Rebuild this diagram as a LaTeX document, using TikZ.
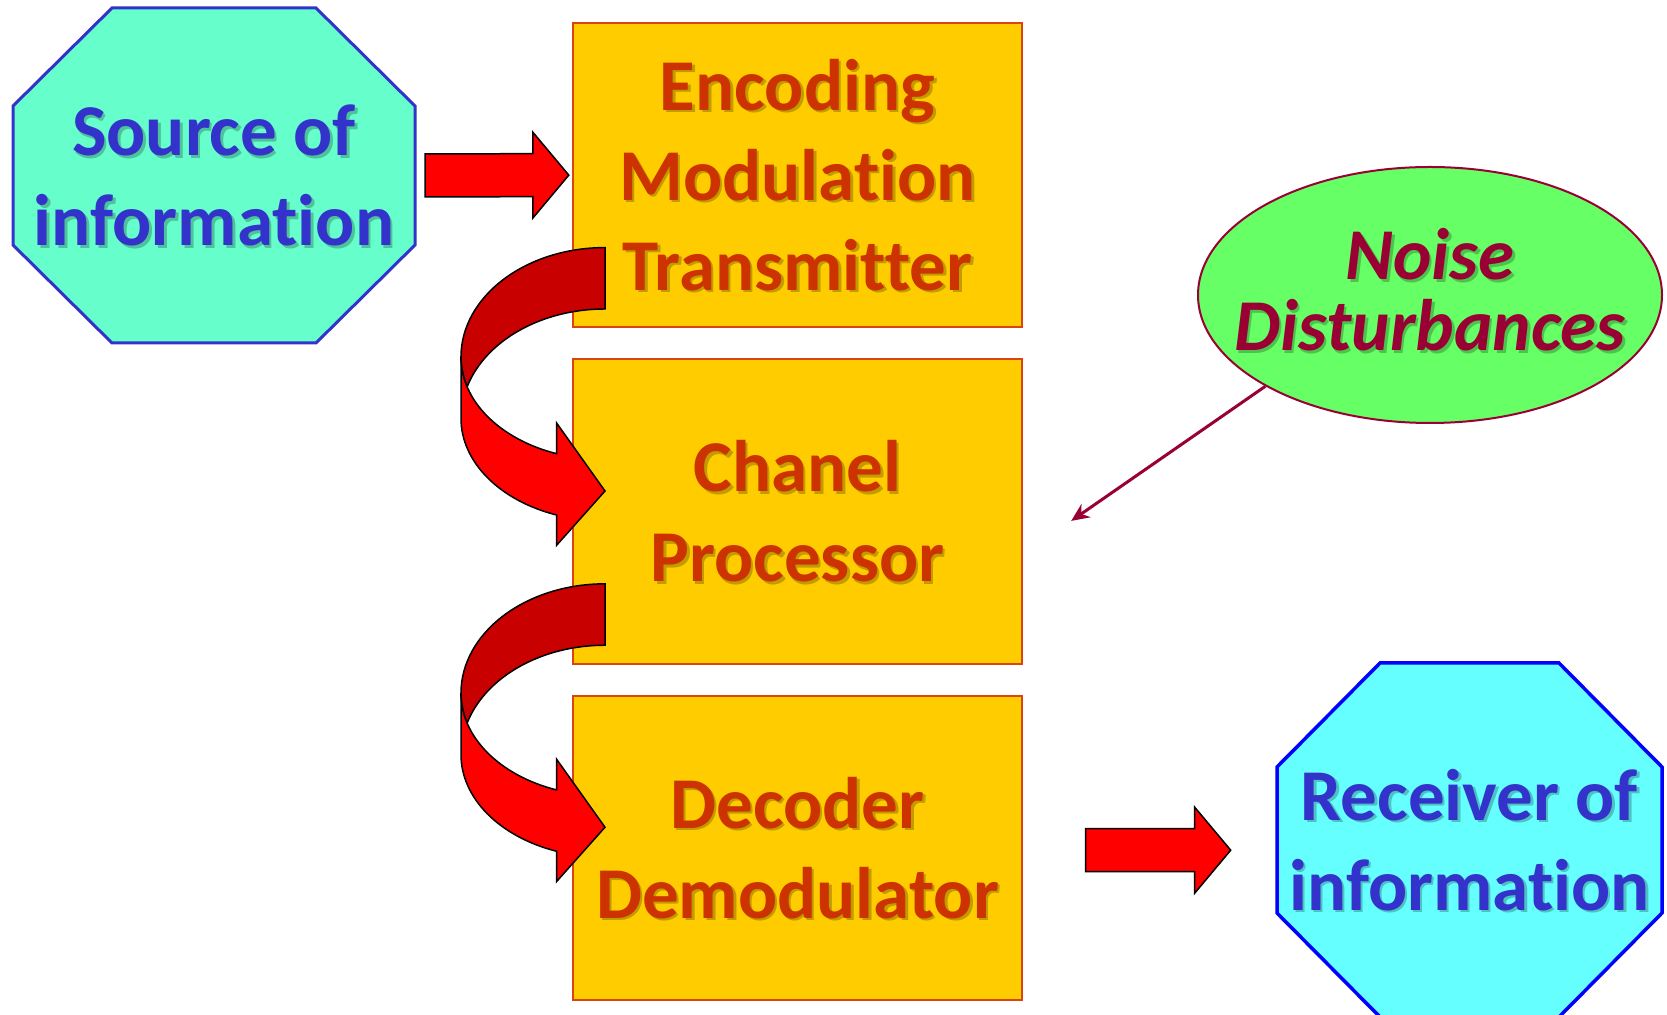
\documentclass[tikz,border=0pt]{standalone}
\usepackage{fontspec}
\setmainfont{Carlito}[Ligatures=NoCommon]
\usetikzlibrary{shapes.geometric,arrows.meta,calc}
\definecolor{srcfill}{HTML}{66FFCC}
\definecolor{srcline}{HTML}{3333CC}
\definecolor{srctext}{HTML}{3333CC}
\definecolor{rcvfill}{HTML}{66FFFF}
\definecolor{rcvline}{HTML}{0000FF}
\definecolor{boxfill}{HTML}{FFCC00}
\definecolor{boxline}{HTML}{D9440F}
\definecolor{boxtext}{HTML}{CC3300}
\definecolor{noisefill}{HTML}{66FF66}
\definecolor{noiseline}{HTML}{990033}
\definecolor{noisetext}{HTML}{990033}
\definecolor{darkband}{HTML}{C80000}
\definecolor{arrred}{HTML}{FF0000}
\tikzset{
  frame/.style={inner sep=0pt, outer sep=0pt, draw=none},
  procbox/.style={draw=boxline, line width=1pt, fill=boxfill, minimum width=224.2pt, minimum height=152.15pt, inner sep=0pt, outer sep=0pt},
  bigtxt/.style={font=\fontsize{36.5}{45}\selectfont\bfseries, align=center, inner sep=0pt},
  noisetxt/.style={font=\fontsize{36.5}{35.5}\selectfont\bfseries\itshape, align=center, inner sep=0pt, text=noisetext},
  blockarrow/.style={draw=black, line width=0.75pt, fill=arrred, line join=miter},
  backband/.style={draw=black, line width=0.75pt, fill=darkband},
  frontband/.style={draw=black, line width=0.75pt, fill=arrred},
  noisearrow/.style={draw=noiseline, line width=1.5pt, -{Stealth[length=9pt,width=8pt]}},
  srcocto/.style={draw=srcline, line width=1.5pt, fill=srcfill, line join=miter},
  rcvocto/.style={draw=rcvline, line width=1.75pt, fill=rcvfill, line join=miter},
}
% octagon around a frame node: #1 style, #2 node, #3 chamfer x, #4 chamfer y
\newcommand\octagonpath[4]{%
  \draw[#1] ($(#2.north west)+(#3,0)$) -- ($(#2.north east)+(-#3,0)$) -- ($(#2.north east)+(0,#4)$) -- ($(#2.south east)+(0,-#4)$) -- ($(#2.south east)+(-#3,0)$) -- ($(#2.south west)+(#3,0)$) -- ($(#2.south west)+(0,-#4)$) -- ($(#2.north west)+(0,#4)$) -- cycle;}
% text with a soft shadow: #1 style, #2 name, #3 position, #4 text
\newcommand\shtxt[4]{%
  \node[#1, text=black, text opacity=0.24] (#2sh) at ($#3+(2.5,2.5)$) {#4};
  \node[#1] (#2) at #3 {#4};}
% block arrow from tail coordinate #1 to tip coordinate #2
\newcommand\blockarr[2]{%
  \draw[blockarrow] ($#1+(0,-21.5)$) -- ($#2+(-36,-21.5)$) -- ($#2+(-36,-43)$) -- #2 -- ($#2+(-36,43)$) -- ($#2+(-36,21.5)$) -- ($#1+(0,21.5)$) -- cycle;}
% curved ribbon arrow attached to the south west corner of box #1
\newcommand\curvarr[1]{%
  \begin{scope}[shift={(#1.south west)}]
    \draw[backband] (31.7,-79.7) arc[start angle=270,end angle=180,x radius=144,y radius=109.4]
      arc[start angle=180,end angle=163.17,x radius=144,y radius=102.6]
      arc[start angle=196.83,end angle=270,x radius=144,y radius=109.4] -- cycle;
    \draw[frontband] (-112.3,29.7) -- (-112.3,91.1)
      arc[start angle=180,end angle=109.6,x radius=144,y radius=102.6]
      -- (-16.7,218) -- (31.7,163.7) -- (-16.7,95.7) -- (-16.7,126.4)
      arc[start angle=109.6,end angle=180,x radius=144,y radius=102.6] -- cycle;
  \end{scope}}
\begin{document}
\begin{tikzpicture}[x=0.5pt,y=-0.5pt]
\useasboundingbox (0,0) rectangle (1667,1015);
\fill[white] (0,0) rectangle (1667,1015);

% source
\node[frame, minimum width=201pt, minimum height=167.5pt] (src) at (214,175.5) {};
\octagonpath{srcocto}{src}{99}{98}
\shtxt{bigtxt,text=srctext}{srct}{(src)}{Source of\\information}

% process boxes
\node[procbox] (b1) at (797.5,175.15) {};
\node[procbox] (b2) at (797.5,511.4) {};
\node[procbox] (b3) at (797.5,847.7) {};
\shtxt{bigtxt,text=boxtext}{b1t}{(b1)}{Encoding\\Modulation\\Transmitter}
\shtxt{bigtxt,text=boxtext}{b2t}{(b2)}{Chanel\\Processor}
\shtxt{bigtxt,text=boxtext}{b3t}{(b3)}{Decoder\\Demodulator}

% arrow source -> box 1
\coordinate (a1s) at ($(src.east)+(10,0)$);
\coordinate (a1e) at ($(b1.west)+(-4.5,0)$);
\blockarr{(a1s)}{(a1e)}

% curved arrows
\curvarr{b1}
\curvarr{b2}

% noise
\node[ellipse, draw=noiseline, fill=noisefill, line width=1pt, minimum width=232pt, minimum height=128pt, inner sep=0pt] (noise) at (1430,295) {};
\coordinate (noisec) at ($(noise)+(0,-5)$);
\shtxt{noisetxt}{noiset}{(noisec)}{Noise\\Disturbances}
\coordinate (nzend) at ($(b2.east)+(49.5,9.5)$);
\draw[noisearrow] (noise.209) -- (nzend);

% receiver
\node[frame, minimum width=192.5pt, minimum height=177pt] (rcv) at (1469.5,840) {};
\octagonpath{rcvocto}{rcv}{103}{104}
\shtxt{bigtxt,text=srctext}{rcvt}{(rcv)}{Receiver of\\information}

% arrow box 3 -> receiver
\coordinate (a3s) at ($(b3.east)+(64,2.5)$);
\coordinate (a3e) at ($(b3.east)+(209,2.5)$);
\blockarr{(a3s)}{(a3e)}
\end{tikzpicture}
\end{document}
